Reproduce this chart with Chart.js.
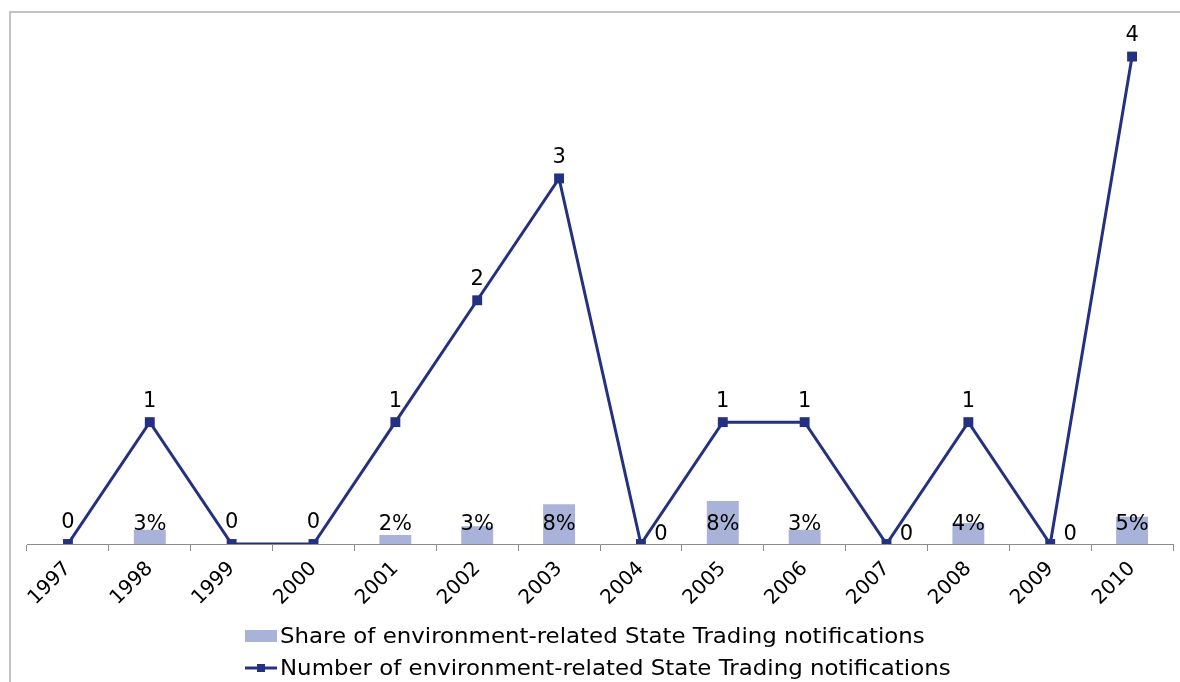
<!DOCTYPE html>
<html><head><meta charset="utf-8">
<script src="https://cdn.jsdelivr.net/npm/chart.js@4.4.0/dist/chart.umd.min.js"></script>
<style>
html,body{margin:0;padding:0;background:#fff;overflow:hidden}
#wrap{position:relative;width:1180px;height:682px;overflow:hidden}
#frame{position:absolute;left:9px;top:11px;width:1200px;height:700px;border:2px solid #c3c3c3;box-sizing:border-box}
#c{position:absolute;left:0;top:0}
.leg{position:absolute;left:245px;font-family:'DejaVu Sans',sans-serif;font-size:21px;color:#000;display:flex;align-items:center;height:26px;white-space:nowrap}
.leg span{display:inline-block;transform-origin:0 50%;transform:scaleX(1.09)}
.leg canvas{margin-right:3px}
</style></head>
<body><div id="wrap"><div id="frame"></div><canvas id="c" width="1180" height="682"></canvas><div id="legend"></div></div>
<script>
const years = ['1997','1998','1999','2000','2001','2002','2003','2004','2005','2006','2007','2008','2009','2010'];
const countValues = [0,1,0,0,1,2,3,0,1,1,0,1,0,4];
const shareValues = [null,2.7,null,null,1.7,3.4,7.6,null,8.2,2.7,null,4.0,null,5.2];
const shareLabel = 'Share of environment-related State Trading notifications';
const countLabel = 'Number of environment-related State Trading notifications';

const lineColor = '#243182';
const barColor = '#a9b3d9';
const rightLabelIdx = [7,10,12];

const labelPlugin = {
  id:'valueLabels',
  afterDatasetsDraw(chart){
    const ctx = chart.ctx;
    ctx.save();
    ctx.font = '21px "DejaVu Sans"';
    ctx.fillStyle = '#000';
    ctx.textAlign = 'center';
    ctx.textBaseline = 'middle';
    const bottom = chart.chartArea.bottom;
    chart.getDatasetMeta(0).data.forEach((el,i)=>{
      if (shareValues[i] == null) return;
      ctx.fillText(Math.round(shareValues[i]) + '%', el.x, bottom - 19);
    });
    chart.getDatasetMeta(1).data.forEach((el,i)=>{
      const t = String(countValues[i]);
      if (rightLabelIdx.includes(i)) ctx.fillText(t, el.x + 20, el.y - 9);
      else ctx.fillText(t, el.x, el.y - 21);
    });
    ctx.restore();
  }
};

const chart = new Chart(document.getElementById('c'), {
  type:'bar',
  data:{
    labels: years,
    datasets:[
      {type:'bar', label: shareLabel, data: shareValues, backgroundColor: barColor, yAxisID:'y2', order:1,
       categoryPercentage:1, barPercentage:0.39},
      {type:'line', label: countLabel, data: countValues, borderColor: lineColor, backgroundColor: lineColor,
       borderWidth:3, pointStyle:'rect', pointRadius:7, pointBackgroundColor: lineColor, pointBorderWidth:0,
       tension:0, yAxisID:'y', order:0}
    ]
  },
  options:{
    responsive:false, animation:false,
    layout:{padding:{left:27,right:2,top:20,bottom:0}},
    plugins:{legend:{display:false}, tooltip:{enabled:false}},
    scales:{
      x:{
        offset:true,
        grid:{display:true, drawOnChartArea:false, drawTicks:true, tickLength:7, color:'#8c8c8c', offset:true},
        border:{display:true, color:'#8c8c8c', width:1},
        ticks:{color:'#000', font:{family:'"DejaVu Sans"', size:20}, minRotation:45, maxRotation:45, padding:6, autoSkip:false},
        afterFit(scale){ scale.height = 138; }
      },
      y:{display:false, min:0, max:4.3},
      y2:{display:false, min:0, max:100}
    }
  },
  plugins:[labelPlugin]
});

// legend
const legend = document.getElementById('legend');
function mk(idx, top){
  const ds = chart.data.datasets[idx];
  const d = document.createElement('div');
  d.className = 'leg'; d.style.top = top + 'px';
  const c = document.createElement('canvas'); c.width = 32; c.height = 14;
  const g = c.getContext('2d');
  if (ds.type === 'bar') { g.fillStyle = ds.backgroundColor; g.fillRect(0,1,32,12); }
  else { g.strokeStyle = ds.borderColor; g.lineWidth = 3; g.beginPath(); g.moveTo(0,7); g.lineTo(32,7); g.stroke();
         g.fillStyle = ds.borderColor; g.fillRect(12,3,8,8); }
  d.appendChild(c);
  const s = document.createElement('span'); s.textContent = ds.label; d.appendChild(s);
  legend.appendChild(d);
}
mk(0, 623);
mk(1, 655);
</script>
</body></html>
